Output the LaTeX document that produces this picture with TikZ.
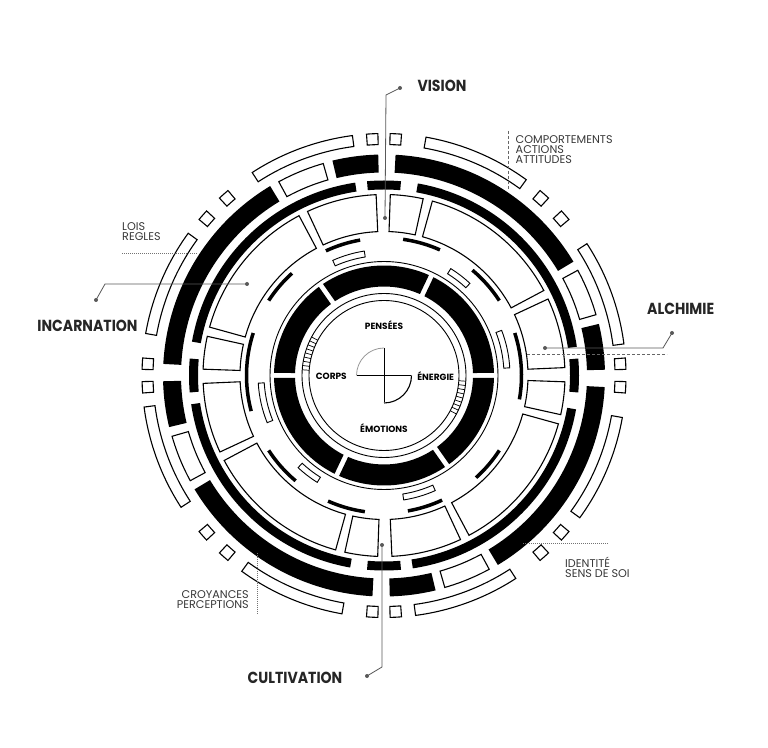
\documentclass[tikz,border=0pt]{standalone}
\usepackage{fontspec}
\setmainfont{Poppins}
\newcommand\rseg[6]{%
 \pgfmathsetmacro\rsA{#4+#6/#2*57.2958}%
 \pgfmathsetmacro\rsB{#5-#6/#2*57.2958}%
 \pgfmathsetmacro\rsC{#5-#6/#3*57.2958}%
 \pgfmathsetmacro\rsD{#4+#6/#3*57.2958}%
 \path[#1] (\rsA:#2pt) arc[start angle=\rsA, end angle=\rsB, radius=#2pt] -- (\rsC:#3pt) arc[start angle=\rsC, end angle=\rsD, radius=#3pt] -- cycle;}
\newcommand\biglbl[1]{\scalebox{0.88}[1]{#1}}
\tikzset{
 ol/.style={draw=black, line width=1.1pt, fill=white, line join=miter},
 olt/.style={draw=black, line width=0.9pt, fill=white, line join=miter},
 bl/.style={fill=black},
 lbl/.style={font=\fontsize{16}{16}\selectfont\bfseries, inner sep=0pt, text=black!85},
 inl/.style={font=\fontsize{9}{9}\selectfont\bfseries, inner sep=0pt},
 thinlbl/.style={font=\fontsize{11.2}{10.3}\selectfont, inner sep=0pt, text=black!78},
 lead/.style={draw=black!65, line width=0.8pt},
 dotl/.style={draw=black!55, line width=0.7pt, dash pattern=on 1pt off 1pt},
 dashl/.style={draw=black!60, line width=0.7pt, dash pattern=on 3pt off 2pt},
}
\begin{document}
\begin{tikzpicture}[x=1pt,y=1pt]
\useasboundingbox (0,0) rectangle (768,747);
\fill[white] (0,0) rectangle (768,747);
\begin{scope}[shift={(384,371.5)}]
 \coordinate (ctr) at (0,0);
 \foreach \k in {0,90,180,270}{
  % ring A
  \rseg{ol}{231}{242}{\k+7.5}{\k+33}{0}
  \rseg{ol}{231}{242}{\k+54}{\k+80}{0}
  \foreach \t in {-2.8,2.8,41.5,48.5}{\rseg{ol}{231}{242}{\k+\t-1.35}{\k+\t+1.35}{0}}
  % ring B
  \rseg{bl}{203}{221}{\k+1.5}{\k+13.5}{0}
  \rseg{ol}{203.5}{220.5}{\k+16}{\k+28.5}{0}
  \rseg{bl}{203}{221}{\k+31}{\k+87}{0}
  % ring C
  \rseg{bl}{186}{195}{\k-5}{\k+5}{0}
  \rseg{bl}{186}{195}{\k+8.5}{\k+80}{0}
  % ring D
  \rseg{ol}{144}{181}{\k+2.5}{\k+25}{0}
  \rseg{ol}{144}{181}{\k+28}{\k+74.5}{0}
  \rseg{ol}{144}{181}{\k+77.5}{\k+88}{0}
 }
 % short black arcs
 \foreach \a/\b in {-10/18,33/50,66/82,100/115,132/147,162/195,213/230,246/262,280/295,312/327}{
  \draw[line width=3.5pt] (\a:137.5pt) arc[start angle=\a, end angle=\b, radius=137.5pt];
 }
 % small outline arcs
 \foreach \a/\b in {3.5/21,47/58,99/114,183.5/202,227/238,279/294}{
  \rseg{olt}{120}{126}{\a}{\b}{0}
 }
 \foreach \k in {0,180}{
  \rseg{bl}{89}{110}{\k+0}{\k+64.6}{2.5}
  \rseg{bl}{89}{110}{\k+64.6}{\k+125}{2.5}
  \rseg{bl}{89}{110}{\k+125}{\k+180}{2.5}
  \foreach \a in {152,155,...,176}{\draw[line width=0.7pt] ({\k+\a}:75pt) -- ({\k+\a}:82pt);}
 }
 \draw[line width=0.9pt] (ctr) circle[radius=114pt];
 \draw[line width=0.9pt] (ctr) circle[radius=82pt];
 \draw[line width=0.9pt] (ctr) circle[radius=75pt];
 % cross
 \draw[line width=1pt] (-27,0) -- (27,0) (0,-27) -- (0,27);
 \draw[black!40, line width=0.8pt] (90:27.5pt) arc[start angle=90, end angle=180, radius=27.5pt];
 \draw[line width=1.1pt] (270:27.5pt) arc[start angle=270, end angle=360, radius=27.5pt];
 \node[inl, anchor=base] (pensees) at (0,45.5) {PENSÉES};
 \node[inl, anchor=base] (emotions) at (0,-57.2) {ÉMOTIONS};
 \node[inl, anchor=base] (corps) at (-52.7,-4.5) {CORPS};
 \node[inl, anchor=base] (energie) at (51.7,-5.5) {ÉNERGIE};
\end{scope}
% leader lines
\coordinate (vA) at (385,529); \coordinate (vB) at (386,652); \coordinate (vC) at (400,659);
\draw[lead] (vA) -- (vB) -- (vC);
\fill[black!65] (vA) circle (2); \fill[black!65] (vC) circle (2);
\node[lbl, anchor=base] (vision) at (442,655.3) {\biglbl{VISION}};
\coordinate (cA) at (382,202); \coordinate (cB) at (382,80); \coordinate (cC) at (367,71);
\draw[lead] (cA) -- (cB) -- (cC);
\fill[black!65] (cA) circle (2); \fill[black!65] (cC) circle (2);
\node[lbl, anchor=base] (cultivation) at (295,63.7) {\biglbl{CULTIVATION}};
\coordinate (iA) at (96,447); \coordinate (iB) at (105,463); \coordinate (iC) at (247,463);
\draw[lead] (iA) -- (iB) -- (iC);
\fill[black!65] (iA) circle (2); \fill[black!65] (iC) circle (2);
\node[lbl, anchor=base] (incarnation) at (87.5,415.3) {\biglbl{INCARNATION}};
\coordinate (aA) at (672,414); \coordinate (aB) at (663,399); \coordinate (aC) at (545,399);
\draw[lead] (aA) -- (aB) -- (aC);
\fill[black!65] (aA) circle (2); \fill[black!65] (aC) circle (2);
\node[lbl, anchor=base west] (alchimie) at (647,432) {\biglbl{ALCHIMIE}};
% thin labels
\coordinate (coA) at (508,616); \coordinate (coB) at (508,557);
\draw[dashl] (coA) -- (coB);
\node[thinlbl, anchor=north west, align=left] (comport) at (515.5,612) {COMPORTEMENTS\\ACTIONS\\ATTITUDES};
\coordinate (loA) at (122,494); \coordinate (loB) at (197,494);
\draw[dotl] (loA) -- (loB);
\node[thinlbl, anchor=north west, align=left] (lois) at (122,525) {LOIS\\REGLES};
\coordinate (alA) at (527,393); \coordinate (alB) at (667,393);
\draw[dashl] (alA) -- (alB);
\coordinate (idA) at (523,204); \coordinate (idB) at (608,204);
\draw[dotl] (idA) -- (idB);
\node[thinlbl, anchor=north west, align=left] (ident) at (565,190) {IDENTITÉ\\SENS DE SOI};
\coordinate (crA) at (257,194); \coordinate (crB) at (257,132);
\draw[dotl] (crA) -- (crB);
\node[thinlbl, anchor=north east, align=right] (croy) at (249,157) {CROYANCES\\PERCEPTIONS};
\end{tikzpicture}
\end{document}
